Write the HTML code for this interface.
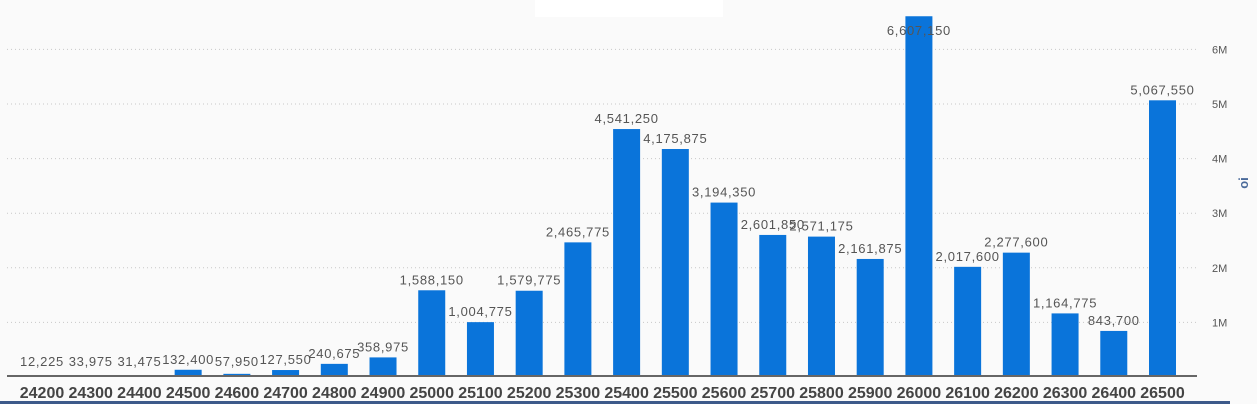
<!DOCTYPE html>
<html><head><meta charset="utf-8"><style>
html,body{margin:0;padding:0;background:#fafafa;}
svg{display:block;font-family:"Liberation Sans",sans-serif;}
</style></head><body>
<svg id="c" width="1257" height="404" xmlns="http://www.w3.org/2000/svg">
<rect width="1257" height="404" fill="#fafafa"/>
<rect x="535" y="0" width="188" height="17" fill="#ffffff"/>
<g id="grid"></g>
<g id="bars"></g>
<line x1="7" y1="376" x2="1197" y2="376" stroke="#666" stroke-width="2"/>
<rect x="0" y="401" width="1230" height="3" fill="#3d5a8a"/>
<text transform="translate(1248,183) rotate(-90)" text-anchor="middle" font-size="13" font-weight="bold" fill="#4a6a9a">oi</text>
</svg>
<script>
(function(){
var V=[12225,33975,31475,132400,57950,127550,240675,358975,1588150,1004775,1579775,2465775,4541250,4175875,3194350,2601850,2571175,2161875,6607150,2017600,2277600,1164775,843700,5067550];
var L=["12,225","33,975","31,475","132,400","57,950","127,550","240,675","358,975","1,588,150","1,004,775","1,579,775","2,465,775","4,541,250","4,175,875","3,194,350","2,601,850","2,571,175","2,161,875","6,607,150","2,017,600","2,277,600","1,164,775","843,700","5,067,550"];
var ns="http://www.w3.org/2000/svg";
function el(t,a,txt){var e=document.createElementNS(ns,t);for(var k in a)e.setAttribute(k,a[k]);if(txt!==undefined)e.textContent=txt;return e;}
var g=document.getElementById("grid"),b=document.getElementById("bars");
var y0=377,s=54.6/1e6;
for(var m=1;m<=6;m++){var gy=y0-m*1e6*s;
g.appendChild(el("line",{x1:7,y1:gy,x2:1197,y2:gy,stroke:"#c8c8c8","stroke-width":1,"stroke-dasharray":"1,3"}));
g.appendChild(el("text",{x:1212,y:gy+4,"font-size":11,fill:"#555"},m+"M"));}
var step=(1162.5-42)/23;
for(var i=0;i<24;i++){var cx=42+i*step,bh=V[i]*s,bt=y0-bh;
b.appendChild(el("rect",{x:cx-13.5,y:bt,width:27,height:bh,fill:"#0a74da"}));
var ly=Math.max(Math.min(bt-6,366),35);
b.appendChild(el("text",{x:cx,y:ly,"text-anchor":"middle","font-size":13,fill:"#555","letter-spacing":"0.7"},L[i]));
b.appendChild(el("text",{x:cx,y:398,"text-anchor":"middle","font-size":16,"font-weight":"bold",fill:"#444"},String(24200+i*100)));}
})();
</script>
</body></html>
